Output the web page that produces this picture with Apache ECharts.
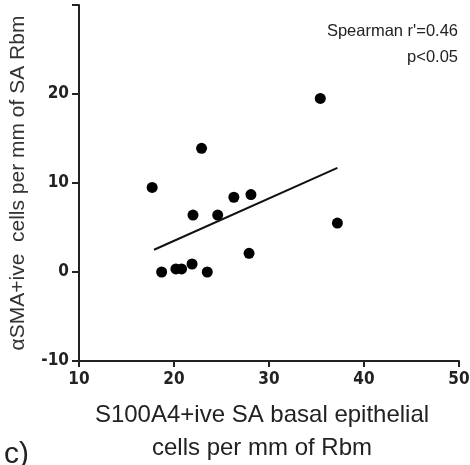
<!DOCTYPE html>
<html>
<head>
<meta charset="utf-8">
<script src="https://cdn.jsdelivr.net/npm/echarts@6/dist/echarts.min.js"></script>
<style>
  html, body { margin: 0; padding: 0; background: #fff; }
  #chart { width: 470px; height: 465px; }
</style>
</head>
<body>
<div id="chart"></div>
<script>
// S100A4+ive cells (x) vs aSMA+ive cells (y), per mm of Rbm
const xValues = [17.7, 18.7, 20.2, 20.8, 21.9, 22.0, 22.9, 23.5, 24.6, 26.3, 27.9, 28.1, 35.4, 37.2];
const yValues = [9.5, 0.0, 0.35, 0.35, 0.9, 6.4, 13.9, 0.0, 6.4, 8.4, 2.1, 8.7, 19.5, 5.5];

// regression line end points
const fitX = [17.9, 37.2];
const fitY = [2.5, 11.7];

const xTicks = [10, 20, 30, 40, 50];
const yTicks = [-10, 0, 10, 20, 30];

const chart = echarts.init(document.getElementById('chart'));

const tickFont = {
  fontFamily: '"DejaVu Sans Condensed", "Liberation Sans Narrow", sans-serif',
  fontWeight: 'bold',
  fontSize: 17,
  color: '#222'
};

const option = {
  animation: false,
  grid: { left: 79, right: 11, top: 5, bottom: 104, outerBoundsMode: 'none' },
  xAxis: {
    type: 'value',
    min: xTicks[0],
    max: xTicks[xTicks.length - 1],
    interval: 10,
    name: 'S100A4+ive SA basal epithelial\ncells per mm of Rbm',
    nameLocation: 'middle',
    nameGap: 38,
    nameTextStyle: {
      fontFamily: '"Liberation Sans", Arial, sans-serif',
      fontSize: 24,
      lineHeight: 33,
      color: '#222',
      padding: [0, 14, 0, 0]
    },
    axisLine: { onZero: false, lineStyle: { color: '#222', width: 2 } },
    axisTick: { length: 6, lineStyle: { color: '#222', width: 2 } },
    axisLabel: Object.assign({ margin: 10 }, tickFont),
    splitLine: { show: false }
  },
  yAxis: {
    type: 'value',
    min: yTicks[0],
    max: yTicks[yTicks.length - 1],
    interval: 10,
    name: 'αSMA+ive  cells per mm of SA Rbm',
    nameLocation: 'middle',
    nameRotate: 90,
    nameGap: 50,
    nameTextStyle: {
      fontFamily: '"Liberation Sans", Arial, sans-serif',
      fontSize: 21,
      color: '#333'
    },
    axisLine: { onZero: false, lineStyle: { color: '#222', width: 2 } },
    axisTick: { length: 7, lineStyle: { color: '#222', width: 2 } },
    axisLabel: Object.assign({
      margin: 10,
      formatter: function (v) { return v === 30 ? '' : v; }
    }, tickFont),
    splitLine: { show: false }
  },
  graphic: [
    {
      type: 'text',
      right: 12,
      top: 23,
      style: {
        text: "Spearman r'=0.46",
        fontFamily: '"Liberation Sans", Arial, sans-serif',
        fontSize: 16.5,
        fill: '#222'
      }
    },
    {
      type: 'text',
      right: 12,
      top: 49,
      style: {
        text: 'p<0.05',
        fontFamily: '"Liberation Sans", Arial, sans-serif',
        fontSize: 16.5,
        fill: '#222'
      }
    },
    {
      type: 'text',
      left: 4,
      top: 440,
      style: {
        text: 'c)',
        fontFamily: '"Liberation Sans", Arial, sans-serif',
        fontSize: 30,
        fill: '#222'
      }
    }
  ],
  series: [
    {
      type: 'scatter',
      symbolSize: 11,
      itemStyle: { color: '#000', opacity: 1 },
      data: xValues.map((x, i) => [x, yValues[i]])
    },
    {
      type: 'line',
      symbol: 'none',
      lineStyle: { color: '#111', width: 2 },
      data: fitX.map((x, i) => [x, fitY[i]])
    }
  ]
};

chart.setOption(option);
</script>
</body>
</html>
